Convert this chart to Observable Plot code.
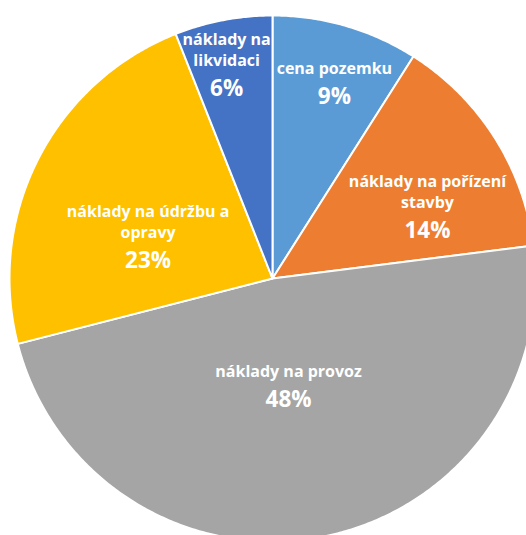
<!DOCTYPE html>
<html><head><meta charset="utf-8">
<script src="https://cdn.jsdelivr.net/npm/d3@7"></script>
<script src="https://cdn.jsdelivr.net/npm/@observablehq/plot@0.6"></script>
<style>html,body{margin:0;padding:0;background:#fff;} svg{display:block}</style>
</head><body><div id="chart"></div>
<script>
// ---- data ----
const categories = ["cena pozemku", "náklady na pořízení stavby", "náklady na provoz", "náklady na údržbu a opravy", "náklady na likvidaci"];
const labelText = ["cena pozemku", "náklady na pořízení\nstavby", "náklady na provoz", "náklady na údržbu a\nopravy", "náklady na\nlikvidaci"];
const shares = [9, 14, 48, 23, 6];
const percentLabels = ["9%", "14%", "48%", "23%", "6%"];

// ---- styles / layout ----
const colors = ["#5B9BD5", "#ED7D31", "#A5A5A5", "#FFC000", "#4472C4"];
const labelRadius = [0.814, 0.648, 0.378, 0.498, 0.825];
const labelAngleShift = [0.6, 7.8, 1.5, -8.8, -1.4]; // degrees, Excel best-fit nudges
const W = 526, H = 535, cx = 272, cy = 278, R = 263;

const arcs = d3.pie().sort(null).value(d => d)(shares);
const outline = [];
arcs.forEach((a, i) => {
  const name = categories[i];
  outline.push({name, x: 0, y: 0});
  const n = Math.max(2, Math.ceil((a.endAngle - a.startAngle) / (Math.PI / 360)));
  for (let j = 0; j <= n; j++) {
    const t = a.startAngle + (a.endAngle - a.startAngle) * j / n;
    outline.push({name, x: Math.sin(t), y: Math.cos(t)});
  }
});
const labels = arcs.map((a, i) => {
  const t = (a.startAngle + a.endAngle) / 2 + labelAngleShift[i] * Math.PI / 180;
  return {text: labelText[i], pct: percentLabels[i], x: labelRadius[i] * Math.sin(t), y: labelRadius[i] * Math.cos(t)};
});

const chart = Plot.plot({
  width: W, height: H, margin: 0,
  style: {fontFamily: "'Open Sans', sans-serif", background: "#fff"},
  x: {domain: [-1, 1], range: [cx - R, cx + R], axis: null},
  y: {domain: [-1, 1], range: [cy + R, cy - R], axis: null},
  color: {domain: categories, range: colors},
  marks: [
    Plot.line(outline, {x: "x", y: "y", z: "name", fill: "name", stroke: "white", strokeWidth: 2, curve: "linear-closed"}),
    Plot.text(labels, {x: "x", y: "y", text: "text", lineAnchor: "bottom", fill: "white", fontSize: 16, fontWeight: "bold", lineHeight: 1.31}),
    Plot.text(labels, {x: "x", y: "y", text: "pct", lineAnchor: "bottom", dy: 30, fill: "white", fontSize: 22.5, fontWeight: "bold", letterSpacing: "0.5px"})
  ]
});
document.getElementById("chart").appendChild(chart);
</script>
</body></html>
